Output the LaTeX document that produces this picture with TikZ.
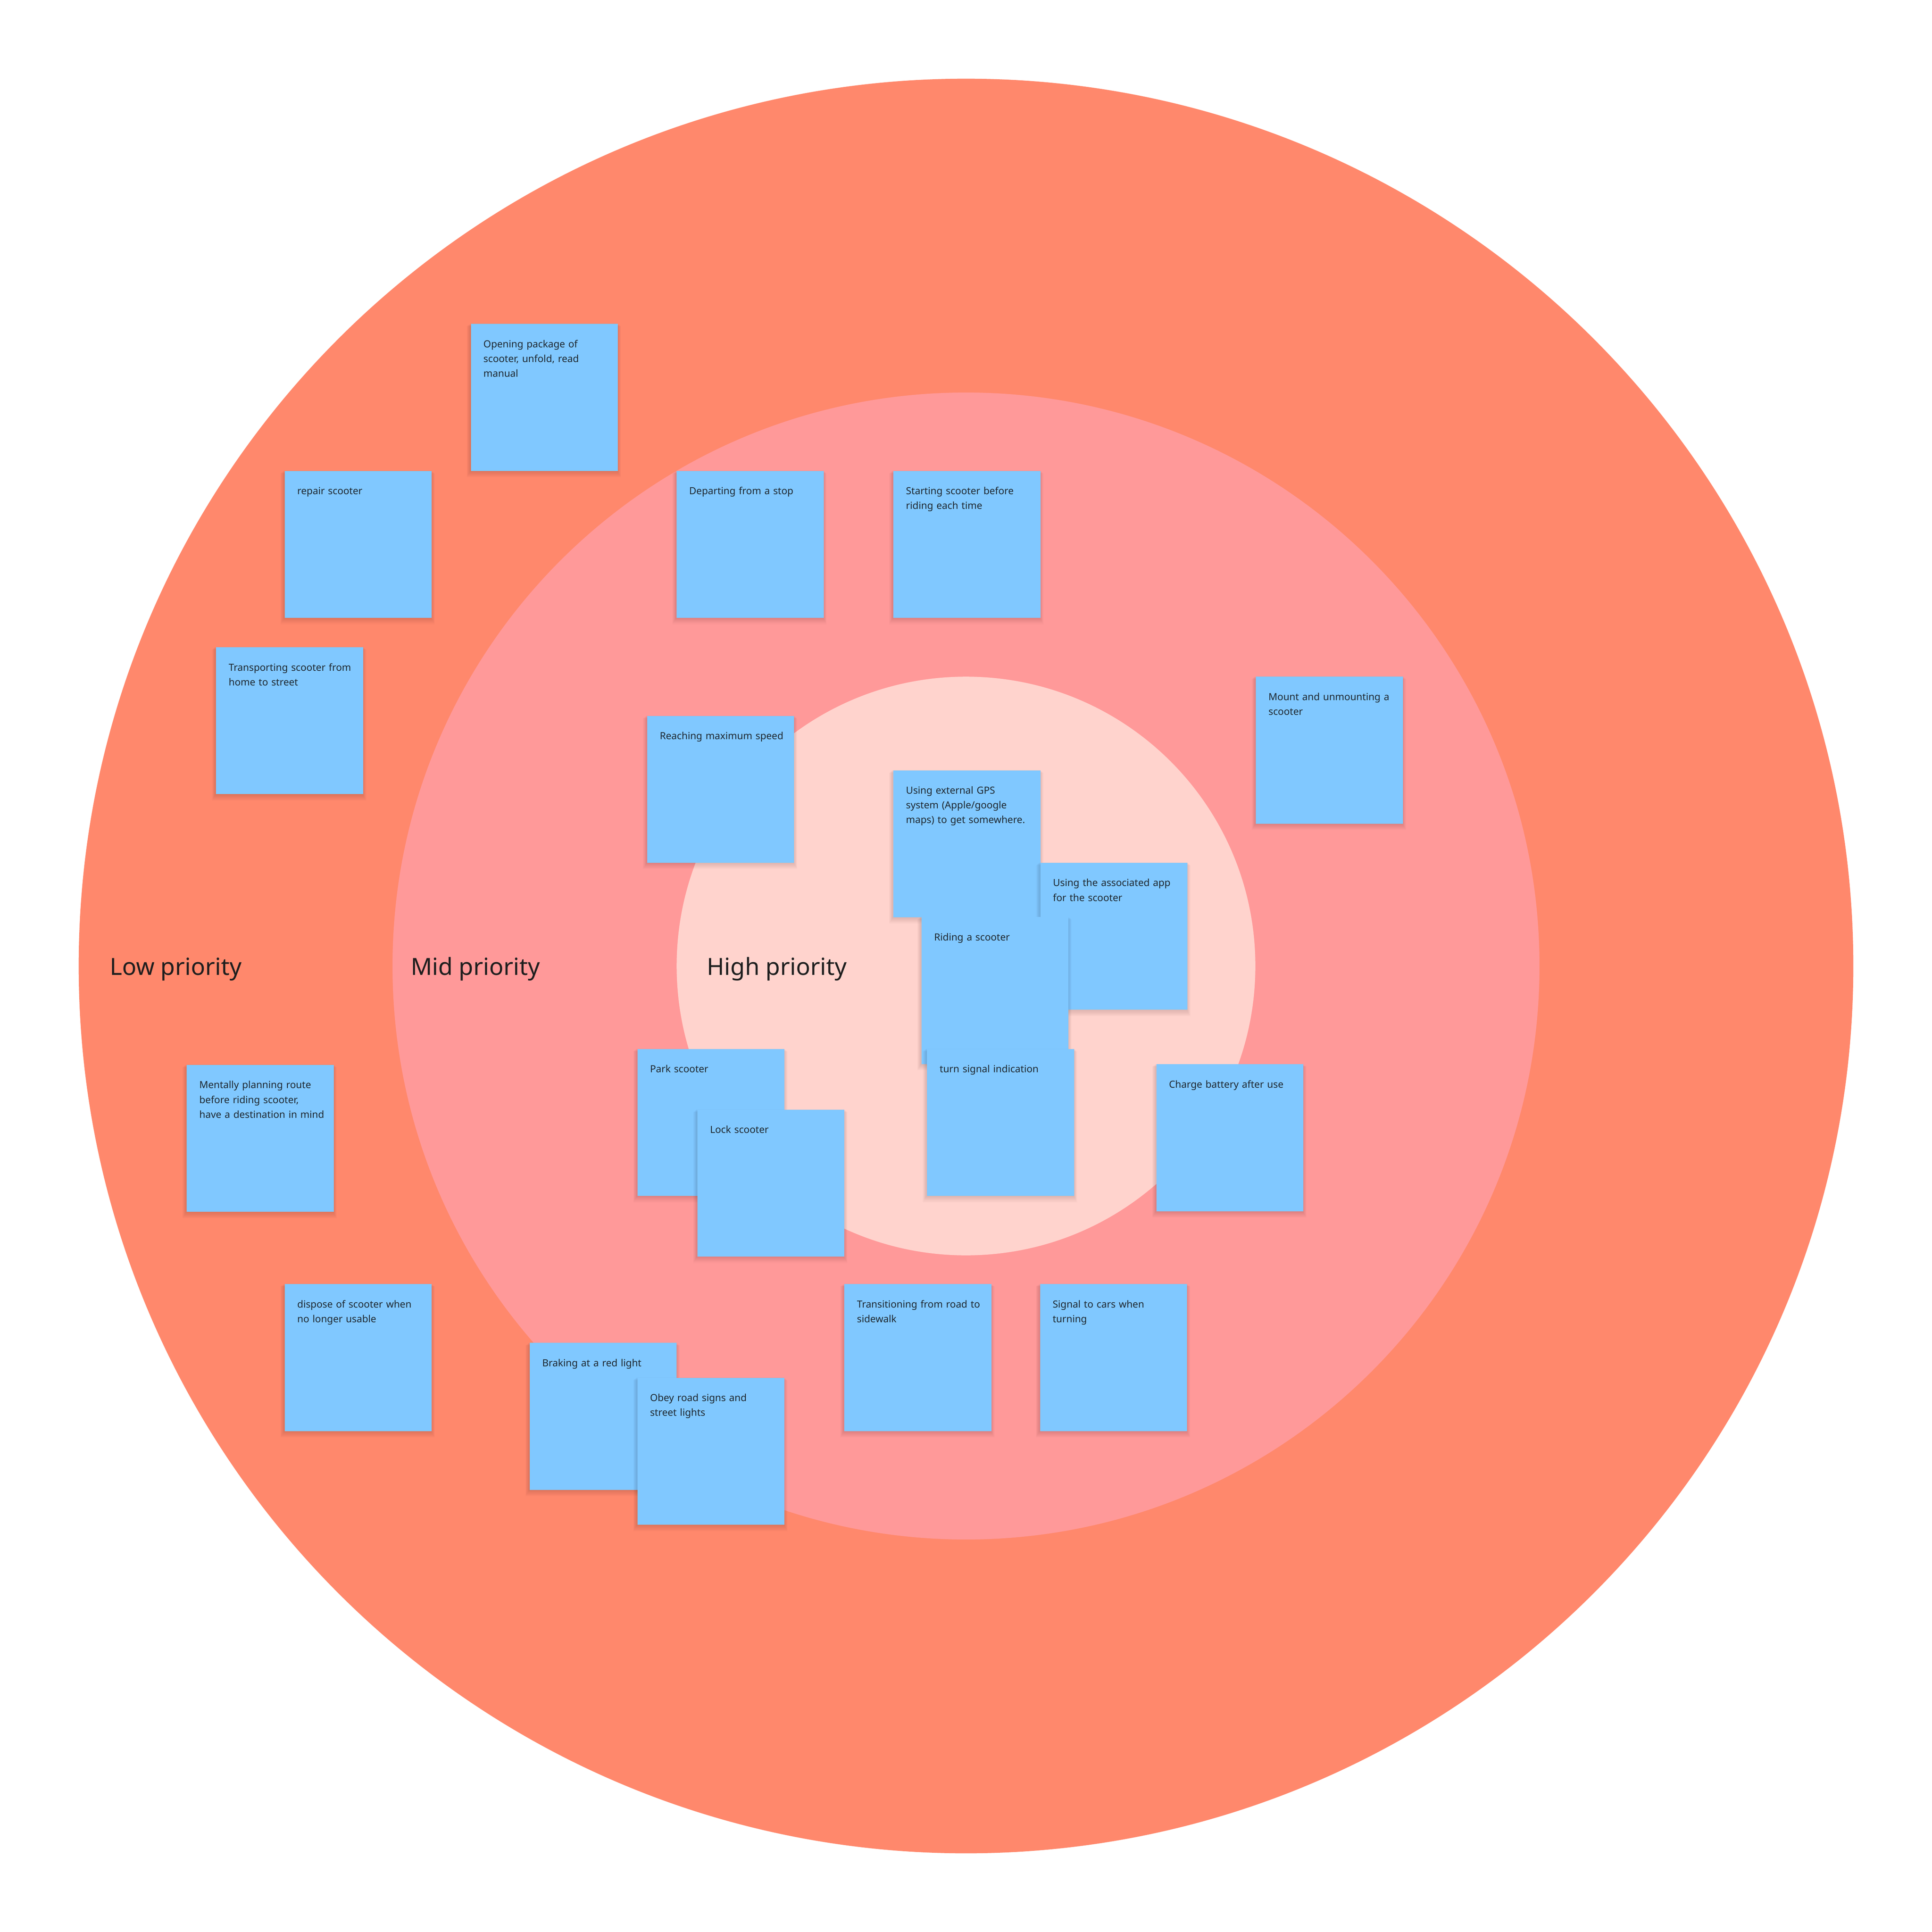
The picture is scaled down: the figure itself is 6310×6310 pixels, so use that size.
\documentclass[tikz,border=0pt]{standalone}
\usepackage{fontspec}
\setmainfont{Noto Sans}
\definecolor{ringout}{HTML}{FF886C}
\definecolor{ringmid}{HTML}{FF9999}
\definecolor{ringin}{HTML}{FFD3CD}
\definecolor{stickyblue}{HTML}{80C8FF}
\definecolor{stickyink}{HTML}{1E2630}
\definecolor{labelink}{HTML}{1E1E1E}
\tikzset{
  stickybox/.style={anchor=north west, fill=stickyblue, draw=none, inner sep=0pt, minimum width=48pt, minimum height=48pt},
  stickytext/.style={anchor=north west, inner sep=0pt, text width=43pt, align=left, text=stickyink, font=\fontsize{3.2pt}{4.8pt}\selectfont},
  ringlabel/.style={anchor=base west, inner sep=0pt, text=labelink, font=\fontsize{7.7pt}{9pt}\selectfont},
  shadowlayer/.style={fill=black, opacity=0.014},
}
\newcommand\sticky[4]{%
  \foreach \k in {1,...,8}{\fill[shadowlayer] (#2-\k*1.5,#3+\k*1.2) rectangle (#2+480+\k*1.5,#3+482+\k*2.6);}
  \node[stickybox] (#1) at (#2,#3) {};
  \node[stickytext] (#1-t) at (#2+41,#3) {\rule{0pt}{7.7pt}#4};
}
\begin{document}
\begin{tikzpicture}[x=0.1pt,y=-0.1pt]
\useasboundingbox[fill=white] (0,0) rectangle (6310,6310);
\coordinate (c) at (3155,3155);
\fill[ringout] (c) circle[radius=2898];
\fill[ringmid] (c) circle[radius=1873];
\fill[ringin] (c) circle[radius=945];
\node[ringlabel] (low) at (357,3184) {Low priority};
\node[ringlabel] (mid) at (1340,3184) {Mid priority};
\node[ringlabel] (high) at (2307,3184) {High priority};
\sticky{open}{1536}{1056}{Opening package of\\scooter, unfold, read\\manual}
\sticky{repair}{928}{1536}{repair scooter}
\sticky{depart}{2208}{1536}{Departing from a stop}
\sticky{start}{2916}{1536}{Starting scooter before\\riding each time}
\sticky{transport}{704}{2112}{Transporting scooter from\\home to street}
\sticky{mount}{4100}{2208}{Mount and unmounting a\\scooter}
\sticky{reach}{2112}{2336}{Reaching maximum speed}
\sticky{gps}{2916}{2514}{Using external GPS\\system (Apple/google\\maps) to get somewhere.}
\sticky{app}{3396}{2816}{Using the associated app\\for the scooter}
\sticky{ride}{3008}{2993}{Riding a scooter}
\sticky{park}{2080}{3424}{Park scooter}
\sticky{lock}{2276}{3622}{Lock scooter}
\sticky{turn}{3026}{3424}{turn signal indication}
\sticky{charge}{3775}{3474}{Charge battery after use}
\sticky{plan}{608}{3476}{Mentally planning route\\before riding scooter,\\have a destination in mind}
\sticky{dispose}{928}{4192}{dispose of scooter when\\no longer usable}
\sticky{brake}{1728}{4384}{Braking at a red light}
\sticky{obey}{2080}{4498}{Obey road signs and\\street lights}
\sticky{transit}{2756}{4192}{Transitioning from road to\\sidewalk}
\sticky{signal}{3395}{4192}{Signal to cars when\\turning}
\end{tikzpicture}
\end{document}
